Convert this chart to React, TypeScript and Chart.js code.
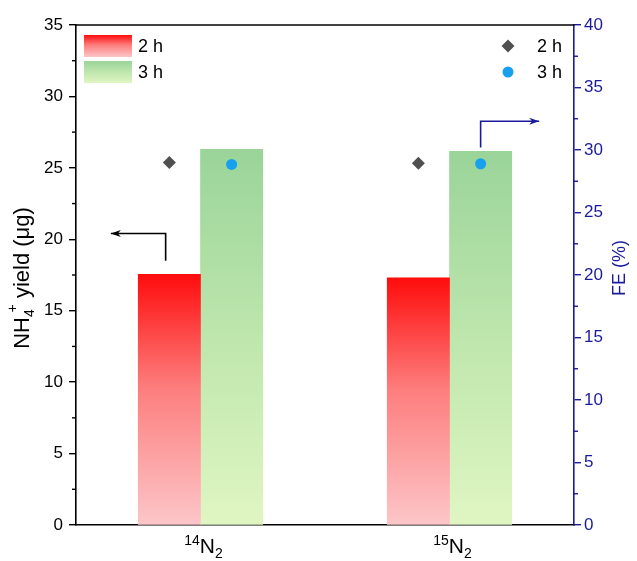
import React, { useEffect, useRef } from 'react';
import { Chart, registerables } from 'chart.js';

Chart.register(...registerables);

// ---- data ----
const categories = ['14N2', '15N2'];
const catMass = ['14', '15'];
const seriesLabels = ['2 h', '3 h'];
const yield2h = [17.55, 17.3];
const yield3h = [26.3, 26.15];
const fe2h = [29.0, 28.95];
const fe3h = [28.85, 28.9];
const yieldMax = 35;
const feMax = 40;
const tickStep = 5;

// ---- styles ----
const FONT = '"Liberation Sans", Arial, sans-serif';
const BLUE = '#1a1a9c';
const redStops: [number, string][] = [[0, '#ff0c0c'], [0.45, '#fd7d7d'], [1, '#fcc6c8']];
const greenStops: [number, string][] = [[0, '#9ad499'], [0.5, '#bee6ad'], [1, '#e0f6c2']];
const DIAMOND = '#505050';
const CIRCLE = '#16a0ee';

// bar layout: two bars per category, together half of the category width
const CAT_PCT = 0.5;
const barOffset = CAT_PCT / 4; // centre of each bar relative to category centre

function grad(ctx: CanvasRenderingContext2D, top: number, bot: number, stops: [number, string][]) {
  const g = ctx.createLinearGradient(0, top, 0, bot);
  stops.forEach(([o, c]) => g.addColorStop(o, c));
  return g;
}

function barBg(stops: [number, string][]) {
  return (c: any) => {
    const chart = c.chart;
    const y = chart.scales && chart.scales.y;
    if (!y || c.type !== 'data' || !chart.chartArea) return stops[0][1];
    return grad(chart.ctx, y.getPixelForValue(c.raw), y.getPixelForValue(0), stops);
  };
}

function drawArrow(ctx: CanvasRenderingContext2D, pts: [number, number][], color: string) {
  ctx.save();
  ctx.strokeStyle = color;
  ctx.fillStyle = color;
  ctx.lineWidth = 1.6;
  ctx.beginPath();
  ctx.moveTo(pts[0][0], pts[0][1]);
  for (let i = 1; i < pts.length; i++) ctx.lineTo(pts[i][0], pts[i][1]);
  ctx.stroke();
  const [x1, y1] = pts[pts.length - 2];
  const [x2, y2] = pts[pts.length - 1];
  const ang = Math.atan2(y2 - y1, x2 - x1);
  const L = 10, W = 3.5;
  ctx.beginPath();
  ctx.moveTo(x2, y2);
  ctx.lineTo(x2 - L * Math.cos(ang) + W * Math.sin(ang), y2 - L * Math.sin(ang) - W * Math.cos(ang));
  ctx.lineTo(x2 - L * 0.7 * Math.cos(ang), y2 - L * 0.7 * Math.sin(ang));
  ctx.lineTo(x2 - L * Math.cos(ang) - W * Math.sin(ang), y2 - L * Math.sin(ang) + W * Math.cos(ang));
  ctx.closePath();
  ctx.fill();
  ctx.restore();
}

function drawDiamond(ctx: CanvasRenderingContext2D, x: number, y: number, r: number) {
  ctx.beginPath();
  ctx.moveTo(x - r, y);
  ctx.lineTo(x, y - r);
  ctx.lineTo(x + r, y);
  ctx.lineTo(x, y + r);
  ctx.closePath();
  ctx.fill();
}

const decor = {
  id: 'decor',
  afterDraw(chart: any) {
    const ctx: CanvasRenderingContext2D = chart.ctx;
    const { left, right, top, bottom } = chart.chartArea;
    const y = chart.scales.y;
    const y1 = chart.scales.y1;
    const x = chart.scales.x;
    const x2 = chart.scales.x2;
    ctx.save();

    // top frame line
    ctx.strokeStyle = '#000';
    ctx.lineWidth = 1.6;
    ctx.beginPath();
    ctx.moveTo(left, top);
    ctx.lineTo(right + 0.8, top);
    ctx.stroke();

    // minor ticks
    ctx.lineWidth = 1.4;
    for (let v = tickStep / 2; v < yieldMax; v += tickStep) {
      const py = y.getPixelForValue(v);
      ctx.beginPath();
      ctx.moveTo(left - 4, py);
      ctx.lineTo(left, py);
      ctx.stroke();
    }
    ctx.strokeStyle = BLUE;
    for (let v = tickStep / 2; v < feMax; v += tickStep) {
      const py = y1.getPixelForValue(v);
      ctx.beginPath();
      ctx.moveTo(right, py);
      ctx.lineTo(right + 4, py);
      ctx.stroke();
    }

    // left axis title: NH4+ yield (μg)
    {
      const cy = (top + bottom) / 2 + 3;
      ctx.save();
      ctx.translate(21, cy);
      ctx.rotate(-Math.PI / 2);
      ctx.fillStyle = '#000';
      ctx.textBaseline = 'alphabetic';
      ctx.textAlign = 'left';
      const big = `22px ${FONT}`;
      const small = `14px ${FONT}`;
      ctx.font = big;
      const wNH = ctx.measureText('NH').width;
      const rest = ' yield (\u03bcg)';
      const wRest = ctx.measureText(rest).width;
      ctx.font = small;
      const w4 = ctx.measureText('4').width;
      const wP = ctx.measureText('+').width;
      const plusShift = w4 * 0.6;
      const wSS = Math.max(w4, plusShift + wP);
      const total = wNH + wSS + wRest;
      let px = -total / 2;
      const base = 8;
      ctx.font = big;
      ctx.fillText('NH', px, base);
      px += wNH;
      ctx.font = small;
      ctx.fillText('4', px, base + 5);
      ctx.fillText('+', px + plusShift, base - 12);
      px += wSS;
      ctx.font = big;
      ctx.fillText(rest, px, base);
      ctx.restore();
    }

    // right axis title: FE (%)
    {
      ctx.save();
      ctx.translate(620, (top + bottom) / 2 - 7);
      ctx.rotate(-Math.PI / 2);
      ctx.fillStyle = BLUE;
      ctx.font = `18px ${FONT}`;
      ctx.textAlign = 'center';
      ctx.textBaseline = 'middle';
      ctx.fillText('FE (%)', 0, 0);
      ctx.restore();
    }

    // category labels with isotope superscript and subscript
    categories.forEach((_, i) => {
      const cx = x.getPixelForValue(i) + 3;
      const base = bottom + 28;
      const big = `21px ${FONT}`;
      const small = `14px ${FONT}`;
      ctx.font = small;
      const wm = ctx.measureText(catMass[i]).width;
      ctx.font = big;
      const wN = ctx.measureText('N').width;
      ctx.font = small;
      const w2 = ctx.measureText('2').width;
      const tot = wm + wN + w2;
      let px = cx - tot / 2;
      ctx.fillStyle = '#000';
      ctx.textAlign = 'left';
      ctx.textBaseline = 'alphabetic';
      ctx.font = small;
      ctx.fillText(catMass[i], px, base - 8);
      px += wm;
      ctx.font = big;
      ctx.fillText('N', px, base);
      px += wN;
      ctx.font = small;
      ctx.fillText('2', px, base + 5);
    });

    // left legend (bars)
    {
      const lx = left + 8;
      const boxes: [number, [number, string][]][] = [[top + 10, redStops], [top + 36, greenStops]];
      ctx.font = `18px ${FONT}`;
      ctx.textAlign = 'left';
      ctx.textBaseline = 'middle';
      boxes.forEach(([by, stops], i) => {
        ctx.fillStyle = grad(ctx, by, by + 22, stops);
        ctx.fillRect(lx, by, 48, 22);
        ctx.fillStyle = '#000';
        ctx.fillText(seriesLabels[i], lx + 54, by + 12);
      });
    }

    // right legend (points)
    {
      const mx = right - 66;
      ctx.font = `18px ${FONT}`;
      ctx.textAlign = 'left';
      ctx.textBaseline = 'middle';
      ctx.fillStyle = DIAMOND;
      drawDiamond(ctx, mx, top + 21, 6.5);
      ctx.fillStyle = CIRCLE;
      ctx.beginPath();
      ctx.arc(mx, top + 47, 5.5, 0, Math.PI * 2);
      ctx.fill();
      ctx.fillStyle = '#000';
      ctx.fillText(seriesLabels[0], mx + 29, top + 22);
      ctx.fillText(seriesLabels[1], mx + 29, top + 48);
    }

    // arrows pointing at the corresponding axes
    drawArrow(ctx, [
      [x2.getPixelForValue(-0.14), y.getPixelForValue(18.5)],
      [x2.getPixelForValue(-0.14), y.getPixelForValue(20.4)],
      [x2.getPixelForValue(-0.36), y.getPixelForValue(20.4)],
    ], '#000');
    drawArrow(ctx, [
      [x2.getPixelForValue(1.125), y1.getPixelForValue(30.2)],
      [x2.getPixelForValue(1.125), y1.getPixelForValue(32.3)],
      [x2.getPixelForValue(1.36), y1.getPixelForValue(32.3)],
    ], BLUE);

    ctx.restore();
  },
};

export default function App() {
  const ref = useRef<HTMLCanvasElement | null>(null);
  useEffect(() => {
    if (!ref.current) return;
    const chart = new Chart(ref.current, {
      type: 'bar',
      data: {
        labels: categories,
        datasets: [
          {
            type: 'scatter' as any,
            label: '2 h FE',
            data: fe2h.map((v, i) => ({ x: i - barOffset, y: v })),
            xAxisID: 'x2',
            yAxisID: 'y1',
            pointStyle: 'rectRot',
            pointRadius: 6.5,
            pointBackgroundColor: DIAMOND,
            pointBorderWidth: 0,
            order: 0,
          } as any,
          {
            type: 'scatter' as any,
            label: '3 h FE',
            data: fe3h.map((v, i) => ({ x: i + barOffset, y: v })),
            xAxisID: 'x2',
            yAxisID: 'y1',
            pointStyle: 'circle',
            pointRadius: 5.5,
            pointBackgroundColor: CIRCLE,
            pointBorderWidth: 0,
            order: 0,
          } as any,
          {
            label: seriesLabels[0],
            data: yield2h,
            xAxisID: 'x',
            yAxisID: 'y',
            backgroundColor: barBg(redStops),
            borderWidth: 0,
            categoryPercentage: 2 * CAT_PCT,
            barPercentage: 1,
            order: 1,
          },
          {
            label: seriesLabels[1],
            data: yield3h,
            xAxisID: 'x',
            yAxisID: 'y',
            backgroundColor: barBg(greenStops),
            borderWidth: 0,
            categoryPercentage: 2 * CAT_PCT,
            barPercentage: 1,
            order: 1,
          },
        ],
      },
      options: {
        responsive: false,
        animation: false,
        layout: { padding: { top: 25, left: 1, right: 0, bottom: 0 } },
        plugins: { legend: { display: false }, tooltip: { enabled: false } },
        scales: {
          x: {
            type: 'category',
            position: 'bottom',
            offset: true,
            grid: { display: false },
            border: { display: true, color: '#000', width: 1.6 },
            ticks: { display: false },
            afterFit: (s: any) => { s.height = 36; },
          },
          x2: {
            type: 'linear',
            display: false,
            offset: false,
            grid: { offset: false },
            min: -0.5,
            max: categories.length - 0.5,
          },
          y: {
            type: 'linear',
            position: 'left',
            min: 0,
            max: yieldMax,
            grid: { drawOnChartArea: false, drawTicks: true, tickLength: 7, color: '#000', lineWidth: 1.4 },
            border: { display: true, color: '#000', width: 1.6 },
            ticks: { stepSize: tickStep, color: '#000', padding: 6, font: { family: FONT, size: 17 } },
            afterFit: (s: any) => { s.width = 75; },
          },
          y1: {
            type: 'linear',
            position: 'right',
            min: 0,
            max: feMax,
            grid: { drawOnChartArea: false, drawTicks: true, tickLength: 7, color: BLUE, lineWidth: 1.4 },
            border: { display: true, color: BLUE, width: 1.6 },
            ticks: { stepSize: tickStep, color: BLUE, padding: 3, font: { family: FONT, size: 17 } },
            afterFit: (s: any) => { s.width = 63; },
          },
        },
      },
      plugins: [decor],
    });
    return () => chart.destroy();
  }, []);
  return (
    <div style={{ position: 'absolute', left: 0, top: 0, width: 637, height: 561, background: '#fff' }}>
      <canvas ref={ref} width={637} height={561} style={{ display: 'block' }} />
    </div>
  );
}
